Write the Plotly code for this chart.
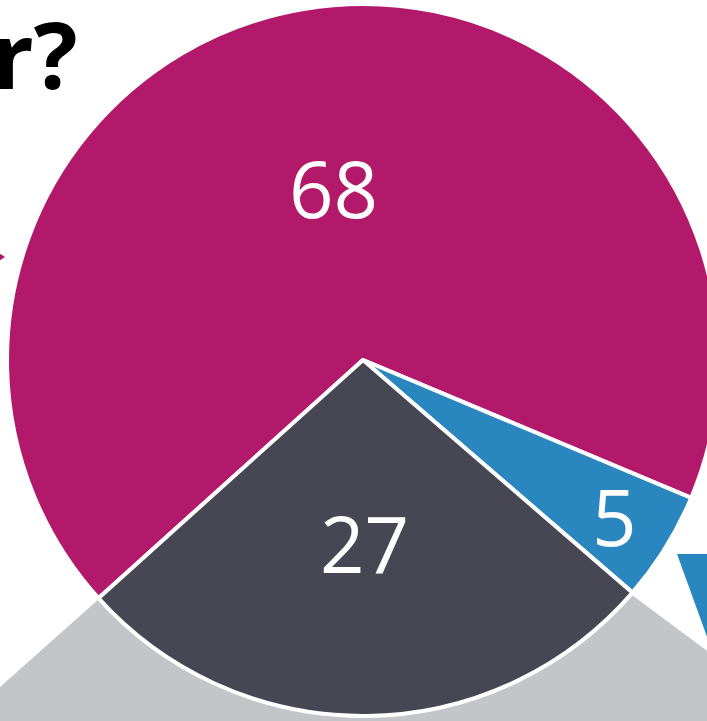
import math
import plotly.graph_objects as go

labels = ["Magenta", "Blue", "Dark"]
values = [68, 5, 27]
colors = ["#B3196B", "#2986BE", "#474753"]
title_text = "r?"

W, H = 727, 721
ROTATION = 228
CX, CY, R = 363, 360, 356
label_radius = [0.49, 0.83, 0.515]

def px(x):
    return x / W

def py(y):
    return 1 - y / H

fig = go.Figure()
fig.add_trace(go.Pie(
    labels=labels,
    values=values,
    sort=False,
    direction="clockwise",
    rotation=ROTATION,
    marker=dict(colors=colors, line=dict(color="white", width=4)),
    textinfo="none",
    hoverinfo="label+value",
    showlegend=False,
    domain=dict(x=[0, 726 / W], y=[1 - 716 / H, 1 - 4 / H]),
))

# value labels placed on each slice's bisector, derived from the data
annotations = []
total = sum(values)
cum = 0
for v, fr in zip(values, label_radius):
    mid = ROTATION + (cum + v / 2) / total * 360
    cum += v
    a = math.radians(mid)
    x = CX + fr * R * math.sin(a)
    y = CY - fr * R * math.cos(a)
    annotations.append(dict(
        text=str(v), xref="paper", yref="paper", x=px(x), y=py(y),
        xanchor="center", yanchor="middle", showarrow=False,
        font=dict(family="Open Sans", size=78, color="white"),
    ))

def path(points):
    return "M " + " L ".join(f"{px(x):.5f},{py(y):.5f}" for x, y in points) + " Z"

shapes = [
    dict(type="path", xref="paper", yref="paper", layer="below",
         path=path([(100, 598), (0, 687), (0, 730), (730, 730), (730, 668), (632, 595)]),
         fillcolor="#C4C5C8", line=dict(width=0)),
    dict(type="path", xref="paper", yref="paper", layer="below",
         path=path([(677, 554), (730, 554), (730, 700)]),
         fillcolor="#2986BE", line=dict(width=0)),
    dict(type="path", xref="paper", yref="paper", layer="below",
         path=path([(-10, 247), (5, 257), (-10, 267)]),
         fillcolor="#B3196B", line=dict(width=0)),
]

annotations.append(dict(
    text=f"<b>{title_text}</b>", xref="paper", yref="paper",
    x=px(80), y=py(54), xanchor="right", yanchor="middle",
    showarrow=False, font=dict(family="Open Sans", size=92, color="black"),
))

fig.update_layout(
    width=W, height=H,
    margin=dict(l=0, r=0, t=0, b=0),
    paper_bgcolor="white",
    plot_bgcolor="white",
    shapes=shapes,
    annotations=annotations,
)

fig.write_html(
    "out.html",
    config={"displayModeBar": False},
    post_script="document.body.style.margin='0';document.body.style.overflow='hidden';",
)
